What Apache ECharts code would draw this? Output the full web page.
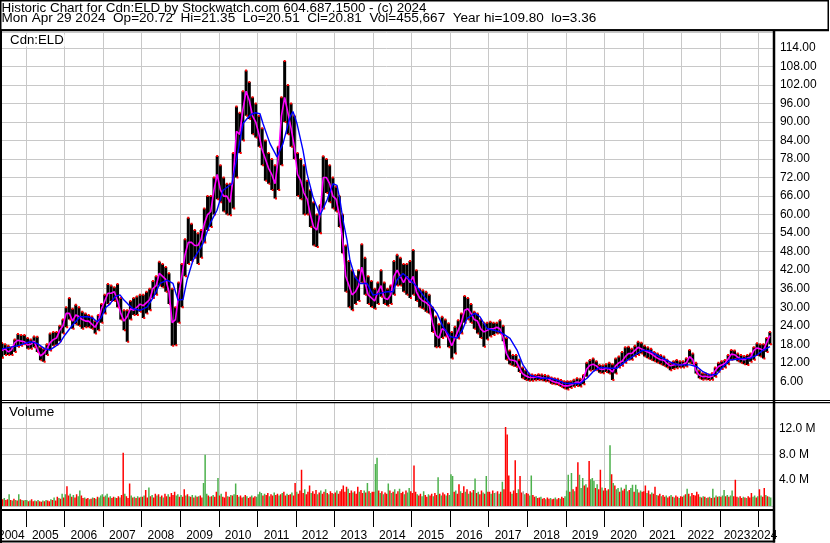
<!DOCTYPE html>
<html><head><meta charset="utf-8">
<script src="https://cdn.jsdelivr.net/npm/echarts@6/dist/echarts.min.js"></script>
<style>html,body{margin:0;padding:0;background:#fff}#c{width:830px;height:543px}</style>
</head><body><div id="c"></div>
<script>
// ---------- DATA ----------
const titleLine1 = 'Historic Chart for Cdn:ELD by Stockwatch.com 604.687.1500 - (c) 2024';
const titleLine2 = 'Mon Apr 29 2024  Op=20.72  Hi=21.35  Lo=20.51  Cl=20.81  Vol=455,667  Year hi=109.80  lo=3.36';
const symbolLabel = 'Cdn:ELD';
const volumeLabel = 'Volume';
const firstYear = 2004, firstMonth = 5;        // monthly data start: May 2004
const yearTicks = [2005,2006,2007,2008,2009,2010,2011,2012,2013,2014,2015,2016,2017,2018,2019,2020,2021,2022,2023,2024];
const yearLabelPos = [2004.62,2005.5,2006.5,2007.5,2008.5,2009.5,2010.5,2011.5,2012.5,2013.5,2014.5,2015.5,2016.5,2017.5,2018.5,2019.5,2020.5,2021.5,2022.5,2023.44,2024.14];

// monthly high / low / close (May 2004 .. Apr 2024)
const highs = [
 18.4,18,17.5,17,19.5,21.3,21,21,
 20,19.5,20.5,20.4,17,16.5,18,21.5,22,22,24,26,
 30,33,29.5,30.8,30,28.5,28,27.5,27,25.5,27.5,31,
 34,37.5,37,36.5,37.5,33,29,29,32,33,33.5,34,
 34,35,36,38.5,40,44.7,44,43,41,36,30,38,
 44,52,59,57,55,54,55,62,66,66,72,79,
 76,72,70,70,80,95,93,100,106.7,103,98,96,
 92,88,84,80,78,76,82,98,109.8,102,96,92,
 80,78,76,71,68,64,60,63,78.9,78,76,72,
 69,66,60,50,45,42,40,42,50.4,46,40,38.5,
 36,38,42,38,36,37,45,47,46,44,44,45,
 48.5,42,36,35.5,35,34,30,27,24.5,26.9,26,24.8,
 22,23.7,25.8,28,33.6,33,31,28.5,28,26,25,25,
 25.3,25,25,25.8,24,20,16,14.5,14.5,13,10.5,9.6,
 8.5,8.2,8,8.3,8.2,8,7.8,7.2,7,6.8,6.4,6,
 6,6,6.5,7,6.8,8,12,12.9,13.4,12.5,11.3,11.2,
 11.5,12,11.5,13.4,14,15.5,17,17.2,16.5,17.5,18.8,18.5,
 17.5,17,16.5,15.5,15,14.5,14,13,12,12.5,12.9,12.5,
 12.5,13.5,16.1,15,12,9.5,8.6,8.5,8.2,8.6,10.5,12,
 12.5,12.9,14.5,16.1,16,15,14.5,14.2,14.5,15,17,18.3,
 18,18,20,22
];
const lows = [
 13.6,14.5,14.5,14.5,15.5,17.2,17.5,18,
 16.5,16.5,17,15.5,12.8,12.3,14.5,16,17.5,17.8,19,21.5,
 23.5,26,23,24.5,24,23,23.5,23.5,23,21.5,22.5,25,
 28,31,32,32,30,26,22.5,18.8,26,27.5,27.5,28.5,
 26.5,28,29,33,34,37,36.5,35,31,17.5,17.7,25,
 30,40,44,45,46,44,46,51,55,56,60,65,
 64,61,60,59.8,62,72,80,84,92,91,86,85,
 82,76,71,70,68,65.2,68,76,90,86,82,78,
 66,65,60,60,56,50,49.5,54,62,67,64,62,
 61,56,47.5,35,30,29,31,32,38,34,31,30.1,
 29.5,31,33.4,31,30.5,31,34,37,37,35,34,33,
 34,32,30,29.5,28.5,28,22,17,17,20,20.5,17,
 13.4,15,19.9,21.5,25,26,25,23,21.5,20,17.2,19.5,
 20.5,21,21.5,21.5,19,13,11.5,11,10.7,9,7,6.4,
 6.2,6.2,6.3,6.4,6.3,6,5.9,5.2,5,4.8,4.2,3.7,
 3.36,3.8,4.2,4.5,4.3,5,7.5,9.5,9.6,9.6,8.8,8.6,
 9,8.5,6.4,8.5,10.5,11,12,13,13,14,14.5,15,
 14,13.5,13,12.5,12,11.5,11,10.5,9.6,10,10.2,10.5,
 10.5,10.8,12,11.5,8.5,7,6.5,6.6,6.4,6.5,7.5,9.1,
 10,10.5,11.5,13,13.2,12.5,12,11.5,11.3,12.3,13,14.5,
 14,13.4,15.5,18
];
const closes = [
 16,16.5,15.5,16.2,18.5,19.3,19,18.8,
 17.8,18,19,16.5,14.2,15,16.5,18.5,19.5,20,22.5,24,
 28,28,25.5,27.5,27,26,25.5,25.5,24.5,23.5,25.5,29.5,
 32,34.5,34.5,35,32,28,25.5,27,29.5,29,30,31,
 30.5,31.5,32.5,36,37,41,40,39,35,25,26,34,
 40,47,51,51,50,50,52,57,60,61,68,73,
 68,66,66,64,72,87,86,94,100,97,92,90,
 86,81,78,75,73,70,78,92,98,93,88,82,
 73,71,67,65,60,56,55,60,72,72,70,66,
 65,60,52,40,37,34,35,37,43,38,34,33,
 32,35,37,33,32.5,34,40,42,40,38,40,38,
 40,35,33,32,31.5,30.5,25,21,20,23,22.5,20,
 17.5,20,22.5,25,29,29.5,28,26,25.5,23,22,22.5,
 23,23,23.5,23,20,15,13,12.8,12.5,10.5,8.5,7.8,
 7.3,7.2,7.3,7.5,7.2,7,6.8,6.2,5.8,5.5,5,4.5,
 4.5,4.8,5.3,5.8,5.5,7,10,11.2,11.5,11,10,9.8,
 10.2,10,9,11,12,12.5,14,15,15,16,17,16.5,
 16,15.5,15,14.2,13.5,13,12.8,11.8,11,11.3,11.5,11.3,
 11.5,12,14,13,9.5,8,7.5,7.6,7.3,7.6,9.5,10.8,
 11.3,11.8,13.2,14.8,14.6,13.8,13.2,13,13.5,13.8,16,16.8,
 16.5,16,18.5,20.81
];

// slow moving average (blue), read at dates given in decimal years
const slowMaDates = [2004.378,2004.585,2004.844,2005.104,2005.285,2005.493,2005.622,2005.752,2005.882,2006.011,2006.193,2006.400,2006.608,2006.738,2006.841,2006.945,2007.075,2007.178,2007.308,2007.438,2007.541,2007.645,2007.775,2007.956,2008.138,2008.294,2008.475,2008.657,2008.812,2008.942,2009.072,2009.175,2009.331,2009.590,2009.772,2009.953,2010.109,2010.342,2010.472,2010.628,2010.809,2010.939,2011.068,2011.146,2011.328,2011.509,2011.665,2011.846,2011.924,2012.028,2012.184,2012.288,2012.443,2012.625,2012.806,2012.962,2013.066,2013.143,2013.221,2013.325,2013.402,2013.532,2013.662,2013.843,2013.999,2014.181,2014.362,2014.518,2014.621,2014.777,2014.959,2015.140,2015.296,2015.469,2015.659,2015.814,2015.996,2016.178,2016.333,2016.437,2016.645,2016.774,2016.956,2017.293,2017.552,2017.734,2017.889,2018.071,2018.330,2018.589,2018.771,2018.978,2019.186,2019.367,2019.549,2019.705,2019.886,2020.145,2020.327,2020.482,2020.664,2020.845,2021.001,2021.183,2021.364,2021.520,2021.701,2021.883,2022.220,2022.402,2022.557,2022.739,2022.920,2023.076,2023.257,2023.595,2023.776,2023.957,2024.113,2024.295];
const slowMaValues = [16.5,17,17.7,18.8,18.3,16.5,16.2,17.2,18.5,21,24,26.9,26.9,26.4,25.3,26.5,30,31,33.4,34,32.3,31,29.5,29,30,33,37.7,38.8,37.7,32.3,32.5,38.8,45.2,50.6,57.1,61.4,67.9,70,78.7,89.5,92.2,93,92.7,89.5,83,78.7,83,91.6,93.4,89.5,80.8,73.3,65.7,59.8,64.7,70,69.5,64.7,58.2,51.7,45.2,39.8,37.7,37.7,33.9,34.5,35,35,38.8,40.9,38.8,36.6,33.9,31.2,28,23.7,20.5,20,23,26.4,28,26.9,23.1,22,19.9,16.1,11.3,8,7,7,6.4,5.3,5.3,5.3,7,9.1,10.5,10.2,10.2,11.8,13.4,15,16.1,15.8,14.5,13.4,12.3,11.3,11.3,10.7,9.1,8,8.3,10.7,12.9,13.4,13.4,14.5,16.1,17.2];

// half-monthly volume in millions (first half of May 2004 .. second half of Apr 2024)
const volumes = [
 4.3,0.6,0.8,0.5,0.6,1.4,0.5,0.4,0.7,0.5,0.4,1.4,0.6,0.5,0.4,0.5,
 0.5,0.3,0.4,0.6,0.3,0.4,0.3,0.5,0.3,0.2,0.4,0.3,0.5,0.4,0.3,0.6,0.5,0.9,0.4,1.0,0.8,0.7,1.5,0.9,
 1.4,2.7,1.2,1.5,1.0,1.3,0.9,1.4,1.1,2.0,1.2,0.8,0.9,0.7,0.8,0.6,0.7,0.9,0.8,0.7,1.0,0.9,1.2,1.4,
 1.0,1.2,1.5,0.9,1.1,0.8,1.0,0.9,0.8,1.1,0.9,1.3,8.0,1.5,1.1,0.8,3.1,1.2,0.9,1.0,0.8,1.1,0.9,1.0,
 1.0,1.2,2.1,0.9,2.5,1.1,1.3,0.9,1.5,1.2,1.4,1.0,1.2,0.9,1.5,1.1,1.4,1.0,1.6,1.3,1.8,1.2,1.4,1.0,
 1.3,1.0,2.2,1.2,1.4,1.1,1.0,1.3,0.9,1.2,1.0,1.1,1.2,0.9,3.2,7.7,1.5,1.2,1.0,1.1,1.3,1.0,1.8,4.0,
 1.2,1.5,1.0,0.9,1.8,1.1,1.0,1.3,1.2,1.4,3.1,1.3,1.0,1.2,0.9,1.0,1.3,1.1,0.8,1.0,1.2,0.9,1.1,1.0,
 1.4,1.8,1.6,1.2,1.5,1.3,1.6,1.1,1.4,1.2,1.7,1.3,1.5,1.2,1.4,1.6,1.8,1.2,1.5,1.3,1.4,1.7,1.2,3.2,
 1.8,1.5,2.0,5.3,1.6,2.2,1.4,1.8,2.8,1.6,1.9,1.5,2.1,1.4,1.7,2.0,1.5,1.8,2.2,1.6,1.4,1.9,1.6,1.5,
 1.7,2.0,1.5,1.9,2.2,2.8,1.8,2.6,2.3,1.6,2.0,1.7,1.9,1.5,2.6,1.8,2.1,1.6,2.0,1.7,3.2,1.9,1.6,1.8,
 1.8,6.2,7.2,2.0,1.6,1.9,1.4,1.7,1.5,3.1,2.0,1.6,1.8,2.2,1.5,1.9,2.3,1.6,1.8,1.4,2.0,1.7,2.4,1.9,
 1.6,6.0,1.8,1.4,1.2,1.5,1.1,1.9,1.3,1.0,1.4,1.2,1.5,1.1,1.6,1.3,4.1,1.5,1.2,1.7,1.4,1.2,1.6,1.3,
 4.6,4.3,1.8,2.0,1.5,3.0,1.9,1.6,2.7,1.8,2.2,1.5,1.9,1.7,2.1,3.9,1.6,1.8,1.4,2.0,1.7,1.5,4.3,1.8,
 1.8,1.5,2.0,1.6,1.7,1.9,1.5,1.8,3.4,2.2,12.1,10.9,4.4,1.8,1.5,2.0,6.8,1.6,2.2,4.3,1.7,1.9,1.4,1.6,
 1.5,1.2,4.4,1.3,1.0,1.1,0.8,0.9,1.0,0.7,0.8,0.6,0.9,0.7,0.8,0.6,0.7,0.9,0.6,0.8,0.7,1.0,0.8,1.1,
 2.0,4.5,1.8,4.8,2.2,1.9,2.6,6.5,4.5,2.4,4.0,2.8,3.0,2.5,6.7,3.8,4.0,3.5,2.4,3.0,2.2,5.3,2.5,2.0,
 2.4,2.0,2.2,9.2,4.6,3.2,2.8,2.2,2.4,1.8,2.5,2.0,2.3,2.9,1.9,2.1,2.4,2.9,1.8,2.9,2.2,1.7,2.0,1.8,
 1.9,2.8,1.6,2.0,1.4,1.7,1.5,2.6,1.3,1.2,1.5,1.1,1.3,1.0,1.2,0.9,1.1,1.3,1.0,0.9,1.2,1.0,0.8,1.1,
 1.0,1.2,1.4,2.3,1.5,1.1,1.6,1.3,1.2,1.8,1.4,1.0,0.9,1.1,1.0,0.8,0.9,1.0,0.8,2.3,0.9,1.2,1.0,1.1,
 1.0,1.2,2.1,1.1,1.3,1.0,1.2,2.0,1.1,3.7,1.0,0.9,1.1,0.8,1.0,0.9,0.8,1.1,0.9,1.6,1.0,1.2,0.9,1.1,
 2.2,1.2,1.0,2.4,1.3,1.1,1.0,0.9
];
// r = down, g = up, x = unchanged
const volumeDirs =
 'rrgrrgrgrgrgrgrg' +
 'grgrrgrgrrgrgrrgrgrrgrgr' +
 'grrgrgrrggrrgrrgrgrgrggg' +
 'rggrgrrgrrgrrgrrrgrgrgrg' +
 'rgrrgrgrrgrgrgrrgrrrrggr' +
 'grrgrgrgrgrgrrgggrgrgrrg' +
 'rgrrrgrgrggrgrrgrgrrgrrg' +
 'gggrgrrgrrgrrgrgrrgrrgrr' +
 'grrrrgrrrgrrrgrgrrgrgrrg' +
 'rgrrrrrrgrrgrrrgrrgrgrgr' +
 'rggrgrgrrgrgrgrrgrrgrggr' +
 'rrrgrrggrrgrrgrrgrgrrgrg' +
 'ggrgrrgrrgrgrgrgrgrrgrgr' +
 'rgrgxrgrgrrrrrgrrrgrrxgr' +
 'rggrrgrrgrrgrrgrrgrrgrrg' +
 'ggrgrgrrgggrgrrgggrgrrgr' +
 'rgrgrgrggrgrrggrggrggrgr' +
 'rrgrrgrrgrrgrrgrrgrgrrgr' +
 'rgrgrgrrrrrgrgrgrgrgrgrg' +
 'rggrgrggrrrgrrgrgrrrggrg' +
 'rgrrgrgg';

// ---------- BUILD ----------
const FONT = '"Liberation Sans", Arial, sans-serif';
const X_MIN = 2004.326, X_MAX = 2024.37;
const monthPos = i => firstYear + (firstMonth - 1 + i + 0.5) / 12;
const halfMonthPos = j => firstYear + ((firstMonth - 1) * 2 + j + 0.5) / 24;

const ohlcData = highs.map((h, i) => [monthPos(i), h, lows[i]]);
const closeData = closes.map((c, i) => [monthPos(i), c]);
const slowData = slowMaDates.map((d, i) => [d, slowMaValues[i]]);
const volData = volumes.map((v, j) => [halfMonthPos(j), v, volumeDirs[j]]);
const volColor = {r: '#ff0000', g: '#4cb14c', x: '#a8a8a8'};

const gridLeft = 0, gridRight = 57.1;
const chart = echarts.init(document.getElementById('c'), null, {renderer: 'canvas'});

const gridLine = {show: true, lineStyle: {color: '#c8c8c8', width: 1}};
const xCommon = {
  type: 'value', min: X_MIN, max: X_MAX,
  splitLine: gridLine,
  axisTick: {show: false, customValues: yearTicks},
  axisLabel: {show: false},
  axisLine: {show: false}
};
const txt = (text, x, y, sx, extra) => Object.assign({
  type: 'text', z: 100, x: x, y: y, scaleX: sx,
  style: {text: text, font: '12px ' + FONT, fill: '#000', verticalAlign: 'top'}
}, extra || {});

chart.setOption({
  animation: false,
  backgroundColor: '#fff',
  grid: [
    {left: gridLeft, right: gridRight, top: 32.5, height: 367.3, containLabel: false, outerBoundsMode: 'none'},
    {left: gridLeft, right: gridRight, top: 402.5, height: 103.5, containLabel: false, outerBoundsMode: 'none'}
  ],
  xAxis: [
    Object.assign({gridIndex: 0}, xCommon),
    Object.assign({}, xCommon, {
      gridIndex: 1, position: 'bottom', offset: 4,
      axisLine: {show: true, onZero: false, lineStyle: {color: '#000', width: 2}},
      axisTick: {show: true, customValues: yearTicks, length: 17, lineStyle: {color: '#000', width: 1}},
      axisLabel: {show: true, customValues: yearLabelPos, margin: 20, color: '#000',
        fontFamily: FONT, fontSize: 12, formatter: v => String(Math.floor(v))}
    })
  ],
  yAxis: [
    {gridIndex: 0, type: 'value', position: 'right', min: 0, max: 119, interval: 6,
      axisLine: {show: false}, axisTick: {show: false},
      splitLine: gridLine,
      axisLabel: {margin: 7, color: '#000', fontFamily: FONT, fontSize: 12, showMinLabel: false, showMaxLabel: false,
        formatter: v => v.toFixed(2)}},
    {gridIndex: 1, type: 'value', position: 'right', min: 0, max: 16, interval: 4,
      axisLine: {show: false}, axisTick: {show: false},
      splitLine: gridLine,
      axisLabel: {margin: 6, color: '#000', fontFamily: FONT, fontSize: 12, showMinLabel: false, showMaxLabel: false,
        formatter: v => v.toFixed(1) + ' M'}},
    {gridIndex: 1, type: 'value', show: false, min: -0.46, max: 16}
  ],
  series: [
    {
      type: 'custom', xAxisIndex: 0, yAxisIndex: 0, clip: true, z: 2,
      data: ohlcData,
      renderItem: (params, api) => {
        const x = api.value(0);
        const top = api.coord([x, api.value(1)]);
        const bot = api.coord([x, api.value(2)]);
        const w = 3;
        return {type: 'group', children: [
          {type: 'rect', shape: {x: top[0] - w / 2, y: top[1], width: w, height: Math.max(1, bot[1] - top[1])}, style: {fill: '#000'}},
          {type: 'rect', shape: {x: top[0] - 1, y: top[1] - 1, width: 2, height: 2}, style: {fill: '#ff0000'}},
          {type: 'rect', shape: {x: top[0], y: bot[1] - 1, width: 2, height: 2}, style: {fill: '#ff0000'}}
        ]};
      }
    },
    {type: 'line', xAxisIndex: 0, yAxisIndex: 0, data: closeData, symbol: 'none', z: 3,
      lineStyle: {color: '#ff00ff', width: 1.6}},
    {type: 'line', xAxisIndex: 0, yAxisIndex: 0, data: slowData, symbol: 'none', z: 4,
      lineStyle: {color: '#0000ff', width: 1.4}},
    {
      type: 'custom', xAxisIndex: 1, yAxisIndex: 2, clip: true, z: 2,
      data: volData,
      renderItem: (params, api) => {
        const x = api.value(0);
        const top = api.coord([x, api.value(1)]);
        const base = api.coord([x, -0.46]);
        const w = 1.5;
        return {type: 'rect', shape: {x: top[0] - w / 2, y: top[1], width: w, height: base[1] - top[1]},
          style: {fill: volColor[volData[params.dataIndex][2]]}};
      }
    }
  ],
  graphic: [
    {type: 'rect', z: 100, shape: {x: 0.75, y: 0.75, width: 827.5, height: 29.25}, style: {fill: 'none', stroke: '#000', lineWidth: 1.5}},
    {type: 'line', z: 100, shape: {x1: 0, y1: 30.3, x2: 829, y2: 30.3}, style: {stroke: '#000', lineWidth: 2}},
    txt(titleLine1, 1.5, 2.8, 1.118),
    txt(titleLine2, 1.5, 13, 1.13),
    {type: 'line', z: 100, shape: {x1: 1, y1: 30, x2: 1, y2: 543}, style: {stroke: '#000', lineWidth: 2}},
    {type: 'line', z: 100, shape: {x1: 0, y1: 400.5, x2: 830, y2: 400.5}, style: {stroke: '#000', lineWidth: 1.2}},
    {type: 'line', z: 100, shape: {x1: 0, y1: 402.7, x2: 830, y2: 402.7}, style: {stroke: '#000', lineWidth: 1.2}},
    {type: 'rect', z: 99, shape: {x: 777, y: 511, width: 60, height: 40}, style: {fill: '#fff'}},
    {type: 'line', z: 100, shape: {x1: 774, y1: 30, x2: 774, y2: 542.5}, style: {stroke: '#000', lineWidth: 2.5}},
    {type: 'line', z: 100, shape: {x1: 0, y1: 541.5, x2: 775, y2: 541.5}, style: {stroke: '#000', lineWidth: 2}},
    txt(symbolLabel, 9, 34.5, 1.1, {style: {text: symbolLabel, font: '12px ' + FONT, fill: '#000', verticalAlign: 'top', backgroundColor: '#fff', padding: [0, 1]}}),
    txt(volumeLabel, 9, 406.5, 1.13)
  ]
});
</script>
</body></html>
